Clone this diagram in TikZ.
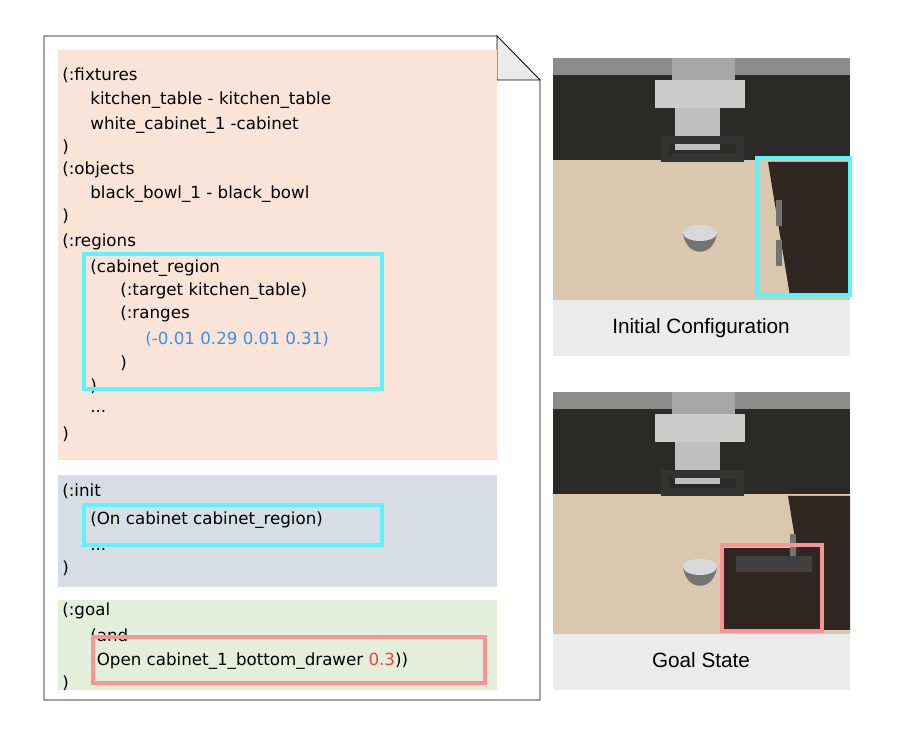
\documentclass[tikz,border=0pt]{standalone}
\usepackage{fontspec}
\setmainfont{DejaVu Sans}
\newfontfamily\capfont{Liberation Sans}
\usetikzlibrary{positioning}
\definecolor{fixbg}{HTML}{FAE4D7}
\definecolor{initbg}{HTML}{D6DDE5}
\definecolor{goalbg}{HTML}{E3EFDA}
\definecolor{hicyan}{HTML}{5CF3FA}
\definecolor{hired}{HTML}{F79596}
\definecolor{numblue}{HTML}{3C8EE8}
\definecolor{numred}{HTML}{F0403C}
\definecolor{wall}{HTML}{2A2B28}
\definecolor{table}{HTML}{D9C7AE}
\definecolor{cab}{HTML}{302622}
\begin{document}
\begin{tikzpicture}[x=0.02cm, y=-0.02cm,
  code/.style={anchor=west, inner sep=0pt, font=\fontsize{9.5}{11}\selectfont},
  hibox/.style={line width=2.6pt},
  caption/.style={font=\capfont\fontsize{11.8}{13}\selectfont}]
\useasboundingbox (0,0) rectangle (897,739);

% document sheet
\draw[fill=white] (44,36) -- (497,36) -- (540,80) -- (540,700) -- (44,700) -- cycle;
\draw[fill=black!8] (497,36) -- (497,80) -- (540,80) -- cycle;
\fill[fixbg] (58,50) rectangle (497,460);
\fill[initbg] (58,475) rectangle (497,587);
\fill[goalbg] (58,600) rectangle (497,690);

% fixtures / objects / regions
\node[code] (l1) at (62,75) {(:fixtures};
\node[code] (l2) at (90,100) {kitchen\_table - kitchen\_table};
\node[code] (l3) at (90,125) {white\_cabinet\_1 -cabinet};
\node[code] (l4) at (62,147) {)};
\node[code] (l5) at (62,170) {(:objects};
\node[code] (l6) at (90,194) {black\_bowl\_1 - black\_bowl};
\node[code] (l7) at (62,216) {)};
\node[code] (l8) at (62,242) {(:regions};
\node[code] (l9) at (90,268) {(cabinet\_region};
\node[code] (l10) at (120,291) {(:target kitchen\_table)};
\node[code] (l11) at (120,314) {(:ranges};
\node[code, text=numblue] (l12) at (145,339) {(-0.01 0.29 0.01 0.31)};
\node[code] (l13) at (120,363) {)};
\node[code] (l14) at (90,386) {)};
\node[code] (l15) at (90,411) {...};
\node[code] (l16) at (62,434) {)};
\draw[hicyan, hibox] (84,254) rectangle (382,389);

% init
\node[code] (i1) at (62,491) {(:init};
\node[code] (i2) at (90,520) {(On cabinet cabinet\_region)};
\node[code] (i3) at (90,549) {...};
\node[code] (i4) at (62,568) {)};
\draw[hicyan, hibox] (84,505) rectangle (382,545);

% goal
\node[code] (g1) at (62,611) {(:goal};
\node[code] (g2) at (90,636) {(and};
\node[code] (g3) at (90,661) {(Open cabinet\_1\_bottom\_drawer \textcolor{numred}{0.3}))};
\node[code] (g4) at (62,683) {)};
\draw[hired, hibox] (93,637) rectangle (485,683);

% scenes
\foreach \dy/\txt in {0/Initial Configuration, 334/Goal State} {
  \begin{scope}[yshift=-\dy*0.02cm]
    \fill[wall] (553,58) rectangle (850,160);
    \fill[black!45] (553,58) rectangle (850,75);
    \fill[table] (553,160) rectangle (850,300);
    \fill[black!8] (553,300) rectangle (850,356);
    % robot
    \fill[black!35] (672,58) rectangle (735,80);
    \fill[black!20] (655,80) rectangle (745,108);
    \fill[black!25] (675,108) rectangle (720,150);
    \draw[black!80, line width=4pt] (665,140) rectangle (740,158);
    % bowl
    \fill[black!55] (683,233) .. controls (686,258) and (714,258) .. (717,233) -- cycle;
    \fill[black!15] (700,233) ellipse (17 and 8);
  \end{scope}
}
% initial cabinet
\fill[cab] (768,162) -- (850,162) -- (850,296) -- (790,296) -- cycle;
\fill[black!55] (776,200) rectangle (782,226);
\fill[black!55] (776,240) rectangle (782,266);
\node[caption] (cap1) at (701,328) {Initial Configuration};
\draw[hicyan, hibox] (757,158) rectangle (850,295);
% goal cabinet
\fill[cab] (788,496) -- (850,496) -- (850,630) -- (810,630) -- cycle;
\fill[cab] (724,548) rectangle (822,630);
\fill[black!75] (736,556) rectangle (812,572);
\fill[black!55] (790,534) rectangle (796,556);
\node[caption] (cap2) at (701,660) {Goal State};
\draw[hired, hibox] (722,545) rectangle (822,631);
\end{tikzpicture}
\end{document}
